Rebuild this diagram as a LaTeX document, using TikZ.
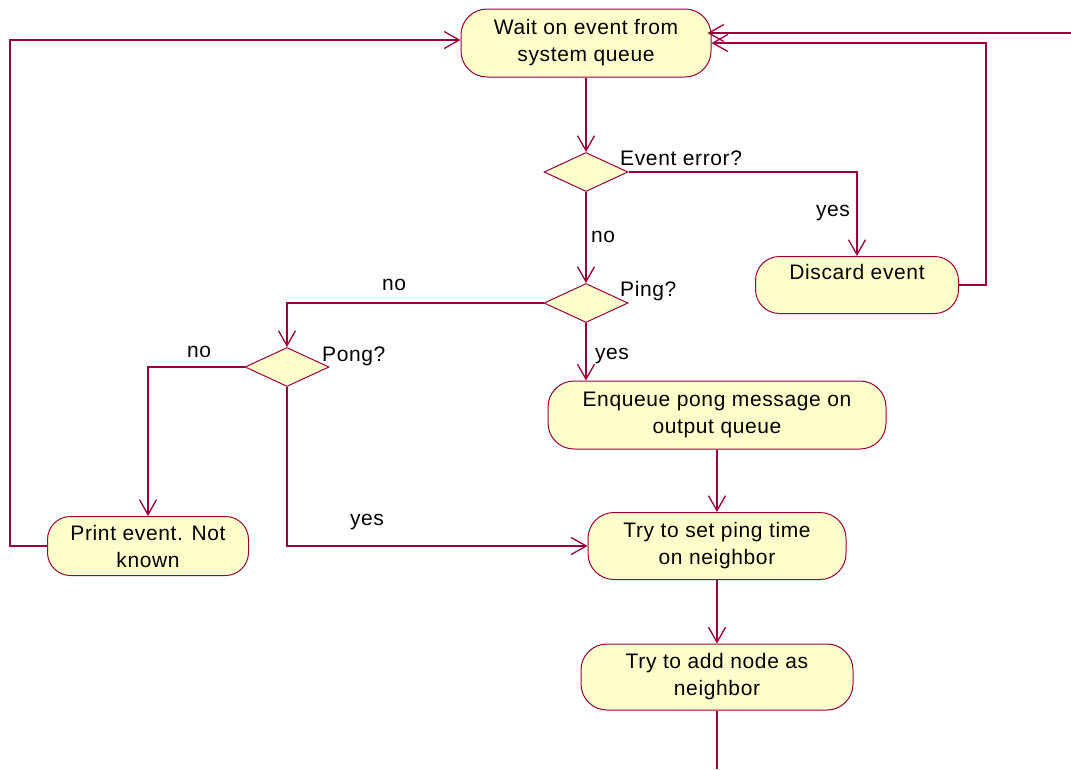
\documentclass[tikz,border=0pt]{standalone}
\usepackage{fontspec}
\setmainfont{Liberation Sans}[LetterSpace=3]
\usetikzlibrary{arrows.meta,shapes.geometric}
\definecolor{lineC}{HTML}{99003D}
\definecolor{fillC}{HTML}{FFFFCC}
\newcommand{\fsz}{\fontsize{21}{27}\selectfont}
\tikzset{
  act/.style={draw=lineC, fill=fillC, line width=1pt, align=center,
    inner sep=0pt, font=\fsz, rounded corners=26pt},
  dec/.style={diamond, draw=lineC, fill=fillC, line width=1pt,
    inner sep=0pt, minimum width=84pt, minimum height=39pt},
  flow/.style={draw=lineC, line width=1.3pt,
    -{Straight Barb[length=15pt,width=17pt,line width=1.3pt]}},
  plain/.style={draw=lineC, line width=1.3pt},
  lbl/.style={font=\fsz, anchor=base, inner sep=0pt}
}
\begin{document}
\begin{tikzpicture}[x=1pt,y=-1pt]
  \fill[white] (0,0) rectangle (1071,769);
  \useasboundingbox (0,0) rectangle (1071,769);

  % activities
  \node[act, minimum width=250pt, minimum height=68pt] (wait) at (586,43)
    {Wait on event from\\system queue};
  \node[act, minimum width=203pt, minimum height=57pt, rounded corners=24pt] (discard) at (857,285)
    {Discard event\\[0pt]\mbox{}};
  \node[act, minimum width=338pt, minimum height=68pt] (enq) at (717,415)
    {Enqueue pong message on\\output queue};
  \node[act, minimum width=201pt, minimum height=59pt, rounded corners=23pt] (print) at (148,546)
    {Print event. Not\\known};
  \node[act, minimum width=258pt, minimum height=67pt] (tryset) at (717,546)
    {Try to set ping time\\on neighbor};
  \node[act, minimum width=272pt, minimum height=66pt] (tryadd) at (717,677)
    {Try to add node as\\neighbor};

  % decisions
  \node[dec] (err)  at (586,172) {};
  \node[dec] (ping) at (586,303) {};
  \node[dec] (pong) at (287,367) {};

  % loose ends and loop corners
  \coordinate (inR)   at (1071,33);
  \coordinate (rloop) at (986,43);
  \coordinate (lloop) at (10,40);
  \coordinate (outB)  at (717,769);

  % connectors
  \draw[flow] (inR) -- ([xshift=-4pt]wait.east |- inR);
  \draw[flow] (discard.east) -| (rloop) -- (wait.east |- rloop);
  \draw[flow] (print.west) -| (lloop) -- (wait.west |- lloop);
  \draw[flow] (wait.south) -- (err.north);
  \draw[flow] (err.east) -| (discard.north);
  \draw[flow] (err.south) -- (ping.north);
  \draw[flow] (ping.west) -| (pong.north);
  \draw[flow] (ping.south) -- (ping.south |- enq.north);
  \draw[flow] (pong.west) -| (print.north);
  \draw[flow] (pong.south) |- (tryset.west);
  \draw[flow] (enq.south) -- (tryset.north);
  \draw[flow] (tryset.south) -- (tryadd.north);
  \draw[plain] (tryadd.south) -- (outB);

  % labels
  \node[lbl, anchor=base west] (lerr)  at (620,165) {Event error?};
  \node[lbl] (lyes1) at (833,216) {yes};
  \node[lbl] (lno1)  at (603,242) {no};
  \node[lbl, anchor=base west] (lping) at (620,296) {Ping?};
  \node[lbl] (lno2)  at (394,290) {no};
  \node[lbl, anchor=base west] (lpong) at (322,361) {Pong?};
  \node[lbl] (lno3)  at (199,357) {no};
  \node[lbl] (lyes2) at (612,359) {yes};
  \node[lbl] (lyes3) at (367,525) {yes};
\end{tikzpicture}
\end{document}
